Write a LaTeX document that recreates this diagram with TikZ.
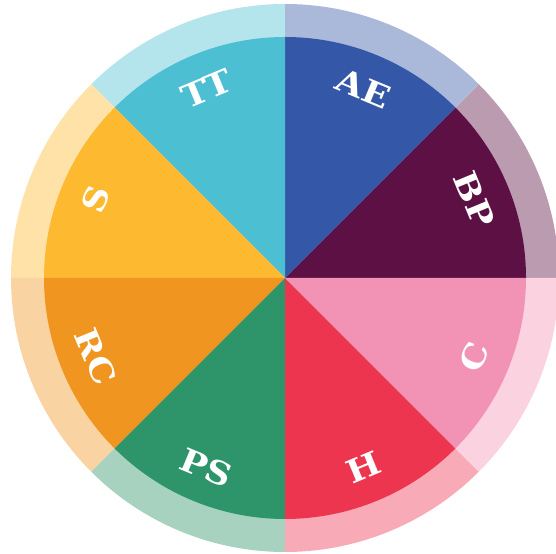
\documentclass[tikz,border=0pt]{standalone}
\usepackage{fontspec}
\newfontfamily\lblfont{DejaVu Serif}[BoldFeatures={FakeStretch=1.12}]
\definecolor{cBP}{HTML}{5C1044}
\definecolor{cAE}{HTML}{3557A7}
\definecolor{cTT}{HTML}{4DBFD2}
\definecolor{cS}{HTML}{FDB930}
\definecolor{cRC}{HTML}{F09620}
\definecolor{cPS}{HTML}{2E9469}
\definecolor{cH}{HTML}{EE3550}
\definecolor{cC}{HTML}{F293B6}
\tikzset{
  lbl/.style={text=white, font=\lblfont\bfseries\fontsize{32}{32}\selectfont, inner sep=0pt, anchor=center}
}
\begin{document}
\begin{tikzpicture}[x=1bp,y=1bp]
\useasboundingbox (0,0) rectangle (556,554);
\fill[white] (0,0) rectangle (556,554);
\clip (0,0) rectangle (556,554);
\coordinate (O) at (285,276);
% outer translucent ring
\foreach \col/\a in {cBP/0,cAE/45,cTT/90,cS/135,cRC/180,cPS/225,cH/270,cC/315}{
  \fill[\col!42!white] (O) -- ++(\a:274) arc[start angle=\a, end angle=\a+45, radius=274] -- cycle;
}
% inner pie
\foreach \col/\a in {cBP/0,cAE/45,cTT/90,cS/135,cRC/180,cPS/225,cH/270,cC/315}{
  \fill[\col] (O) -- ++(\a:241) arc[start angle=\a, end angle=\a+45, radius=241] -- cycle;
}
% labels
\node[lbl, rotate=-67.5]  (nBP) at ([shift={(22.5:205)}]O)  {BP};
\node[lbl, rotate=-22.5]  (nAE) at ([shift={(67.5:205)}]O)  {AE};
\node[lbl, rotate=22.5]   (nTT) at ([shift={(112.5:205)}]O) {TT};
\node[lbl, rotate=67.5]   (nS)  at ([shift={(157.5:205)}]O) {S};
\node[lbl, rotate=-67.5]  (nRC) at ([shift={(202.5:205)}]O) {RC};
\node[lbl, rotate=-22.5]  (nPS) at ([shift={(247.5:205)}]O) {PS};
\node[lbl, rotate=22.5]   (nH)  at ([shift={(292.5:205)}]O) {H};
\node[lbl, rotate=67.5]   (nC)  at ([shift={(337.5:205)}]O) {C};
\end{tikzpicture}
\end{document}
